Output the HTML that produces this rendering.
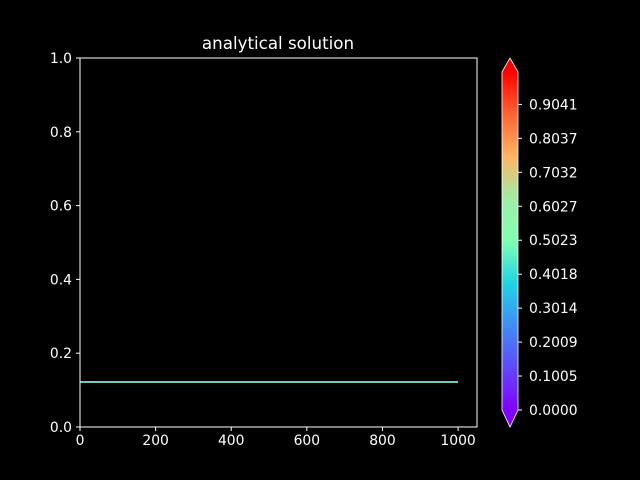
<!DOCTYPE html>
<html><head><meta charset="utf-8"><style>
html,body{margin:0;background:#000;overflow:hidden;width:640px;height:480px}
svg{display:block}
svg text{font-family:"DejaVu Sans","Liberation Sans",sans-serif;fill:#fff;font-size:13.9px}
</style></head><body>
<svg width="640" height="480" xmlns="http://www.w3.org/2000/svg">
<defs><linearGradient id="rb" x1="0" y1="1" x2="0" y2="0">
<stop offset="0" stop-color="rgb(128,0,255)"/>
<stop offset="0.125" stop-color="rgb(96,74,252)"/>
<stop offset="0.25" stop-color="rgb(64,141,243)"/>
<stop offset="0.375" stop-color="rgb(32,212,230)"/>
<stop offset="0.5" stop-color="rgb(128,255,180)"/>
<stop offset="0.625" stop-color="rgb(160,236,166)"/>
<stop offset="0.75" stop-color="rgb(255,180,100)"/>
<stop offset="0.875" stop-color="rgb(255,100,50)"/>
<stop offset="1" stop-color="rgb(255,0,0)"/>
</linearGradient></defs>
<text x="278" y="49" text-anchor="middle" style="font-size:16.7px">analytical solution</text>
<g id="plot"></g>
<g id="cbar"></g>
</svg>
<script>
const xTicks=[0,200,400,600,800,1000];
const yTicks=[0,0.2,0.4,0.6,0.8,1.0];
const seriesX=[0,1000];
const seriesY=[0.122,0.122];
const cbTicks=[0.0000,0.1005,0.2009,0.3014,0.4018,0.5023,0.6027,0.7032,0.8037,0.9041];
const NS="http://www.w3.org/2000/svg";
const L=80,R=477,T=58,B=427,xmax=1050;
const sx=v=>L+v/xmax*(R-L), sy=v=>B-v*(B-T);
const g=document.getElementById('plot');
function mk(t,a,p){const e=document.createElementNS(NS,t);for(const k in a)e.setAttribute(k,a[k]);(p||g).appendChild(e);return e;}
const line=mk('polyline',{points:seriesX.map((x,i)=>sx(x)+','+sy(seriesY[i])).join(' '),fill:'none',stroke:'#73c9b9','stroke-width':2});


const ax=mk('rect',{x:L,y:T,width:R-L,height:B-T,fill:'none',stroke:'#fff','stroke-width':1});


xTicks.forEach(v=>{const x=sx(v);mk('line',{x1:x,x2:x,y1:B,y2:B+4,stroke:'#fff'});
const t=mk('text',{x:x,y:B+18,'text-anchor':'middle'});t.textContent=v;

});
yTicks.forEach(v=>{const y=sy(v);mk('line',{x1:L-4,x2:L,y1:y,y2:y,stroke:'#fff'});
const t=mk('text',{x:L-8,y:y+5,'text-anchor':'end'});t.textContent=v.toFixed(1);

});
const c=document.getElementById('cbar');
const cx0=502,cx1=518,cb0=410,cb1=72,cmax=1.0;
const cy=v=>cb0-v/cmax*(cb0-cb1);
mk('rect',{x:cx0,y:cb1,width:cx1-cx0,height:cb0-cb1,fill:'url(#rb)'},c);
mk('path',{d:`M${cx0},${cb1} L${(cx0+cx1)/2},58 L${cx1},${cb1} Z`,fill:'#f00'},c);
mk('path',{d:`M${cx0},${cb0} L${(cx0+cx1)/2},427 L${cx1},${cb0} Z`,fill:'#8000ff'},c);
const body=mk('path',{d:`M${cx0},${cb1} L${(cx0+cx1)/2},58 L${cx1},${cb1} L${cx1},${cb0} L${(cx0+cx1)/2},427 L${cx0},${cb0} Z`,fill:'none',stroke:'#fff','stroke-width':0.8},c);


cbTicks.forEach(v=>{const y=cy(v);mk('line',{x1:cx1,x2:cx1+4,y1:y,y2:y,stroke:'#fff'},c);
const t=mk('text',{x:cx1+11,y:y+5},c);t.textContent=v.toFixed(4);

});
</script>
</body></html>
